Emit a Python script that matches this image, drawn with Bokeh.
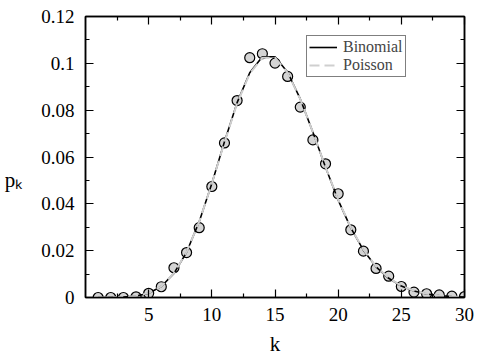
from bokeh.plotting import figure
from bokeh.models import (LinearAxis, FixedTicker, CustomJSTickFormatter, Range1d,
                          Legend, LegendItem, ColumnDataSource)
from bokeh.embed import file_html
from bokeh.resources import INLINE

k = list(range(1, 31))
# simulated frequencies (circles)
p_sim = [0.0, 0.0, 0.0, 0.0003, 0.0018, 0.0046, 0.0127, 0.0192, 0.0298, 0.0474,
         0.0660, 0.0841, 0.1024, 0.1041, 0.1001, 0.0944, 0.0813, 0.0673, 0.0571, 0.0443,
         0.0289, 0.0198, 0.0124, 0.0091, 0.0047, 0.0023, 0.0016, 0.0011, 0.0006, 0.0004]
# Binomial curve
p_binom = [0.0, 0.00003, 0.00016, 0.0006, 0.0018, 0.0047, 0.0103, 0.0193, 0.0324, 0.0487,
           0.0665, 0.0832, 0.0960, 0.1028, 0.1028, 0.0962, 0.0848, 0.0706, 0.0556, 0.0416,
           0.0297, 0.0202, 0.0131, 0.0082, 0.0049, 0.0028, 0.0015, 0.0008, 0.0004, 0.0002]
# Poisson curve
p_pois = [0.0, 0.00003, 0.00017, 0.00065, 0.0019, 0.0048, 0.0104, 0.0194, 0.0324, 0.0486,
          0.0663, 0.0829, 0.0956, 0.1024, 0.1024, 0.0960, 0.0847, 0.0706, 0.0557, 0.0418,
          0.0299, 0.0204, 0.0133, 0.0083, 0.0050, 0.0029, 0.0016, 0.0009, 0.0004, 0.0002]

x_ticks = [5, 10, 15, 20, 25, 30]
x_minor = [2.5, 7.5, 12.5, 17.5, 22.5, 27.5]
y_ticks = [0, 0.02, 0.04, 0.06, 0.08, 0.1, 0.12]
y_minor = [0.01, 0.03, 0.05, 0.07, 0.09, 0.11]

FONT = "Liberation Serif"

p = figure(width=480, height=360, output_backend="svg", toolbar_location=None,
           x_range=Range1d(0, 30), y_range=Range1d(0, 0.12),
           x_axis_location=None, y_axis_location=None,
           min_border_left=85, min_border_right=16, min_border_top=16, min_border_bottom=63)
p.grid.visible = False
p.outline_line_color = "black"
p.outline_line_width = 1.5
p.background_fill_color = "white"

fmt = CustomJSTickFormatter(code="return tick.toFixed(2).replace(/0+$/, '').replace(/\\.$/, '');")
xfmt = CustomJSTickFormatter(code="return tick.toFixed(0);")
blank = CustomJSTickFormatter(code="return '';")

def style(ax, show_labels):
    ax.axis_line_color = "black"
    ax.axis_line_width = 1.5
    ax.major_tick_in = 8
    ax.major_tick_out = 0
    ax.minor_tick_in = 4
    ax.minor_tick_out = 0
    ax.major_tick_line_color = "black"
    ax.minor_tick_line_color = "black"
    ax.major_tick_line_width = 1.2
    ax.minor_tick_line_width = 1.2
    ax.major_label_text_font = FONT
    ax.major_label_text_font_size = "19px"
    ax.major_label_text_color = "black"
    ax.axis_label_text_font = FONT
    ax.axis_label_text_font_style = "normal"
    ax.axis_label_text_font_size = "21px"
    ax.axis_label_text_color = "black"
    if not show_labels:
        ax.formatter = blank
        ax.major_label_standoff = 0

xb = LinearAxis(ticker=FixedTicker(ticks=x_ticks, minor_ticks=x_minor), formatter=xfmt, axis_label="k")
style(xb, True)
xb.major_label_standoff = 10
xb.axis_label_standoff = 8
xt = LinearAxis(ticker=FixedTicker(ticks=x_ticks, minor_ticks=x_minor))
style(xt, False)
yl = LinearAxis(ticker=FixedTicker(ticks=y_ticks, minor_ticks=y_minor), formatter=fmt,
                axis_label="\n\np\u2096")
style(yl, True)
yl.major_label_standoff = 11
yl.axis_label_orientation = "horizontal"
yl.axis_label_standoff = 16
yl.axis_label_text_line_height = 0.95
yr = LinearAxis(ticker=FixedTicker(ticks=y_ticks, minor_ticks=y_minor))
style(yr, False)
p.add_layout(xb, "below")
p.add_layout(xt, "above")
p.add_layout(yl, "left")
p.add_layout(yr, "right")

src = ColumnDataSource(dict(k=k, sim=p_sim, binom=p_binom, pois=p_pois))
p.scatter("k", "sim", source=src, size=10, fill_color="#d4d4d4", line_color="black", line_width=1.2)
rb = p.line("k", "binom", source=src, line_color="black", line_width=1.6)
rp = p.line("k", "pois", source=src, line_color="#cfcfcf", line_width=2.0, line_dash="10 5")

legend = Legend(items=[LegendItem(label="Binomial", renderers=[rb]),
                       LegendItem(label="Poisson", renderers=[rp])],
                location=(221, 220))
legend.label_text_font = FONT
legend.label_text_font_size = "16px"
legend.label_height = 16
legend.glyph_height = 16
legend.glyph_width = 28
legend.spacing = 0
legend.padding = 2
legend.margin = 0
legend.label_standoff = 6
legend.border_line_color = "black"
legend.border_line_width = 1.2
legend.background_fill_alpha = 1
p.add_layout(legend, "center")

open("out.html", "w").write(file_html(p, INLINE))
